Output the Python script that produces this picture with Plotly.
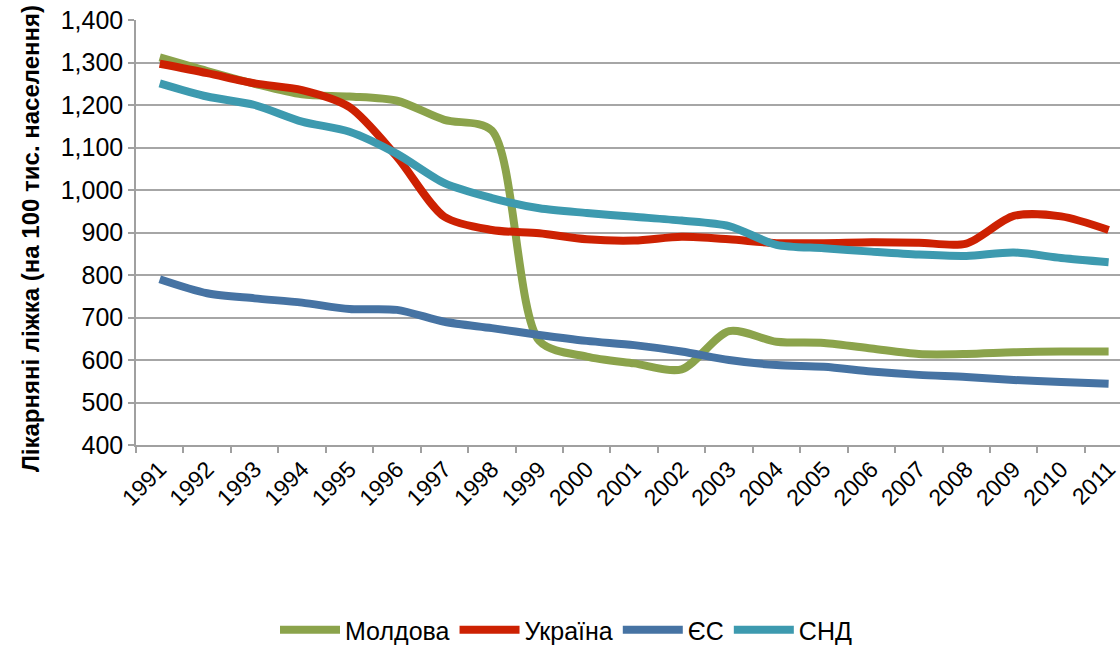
import plotly.graph_objects as go

years = [str(y) for y in range(1991, 2012)]
moldova = [1312, 1280, 1250, 1225, 1220, 1210, 1165, 1140, 645, 608, 592, 578, 668, 643, 640, 627, 614, 614, 618, 620, 620]
ukraine = [1297, 1275, 1251, 1235, 1195, 1078, 937, 906, 898, 884, 881, 890, 884, 875, 875, 877, 876, 874, 939, 938, 906]
eu = [790, 757, 745, 735, 720, 718, 690, 675, 659, 645, 635, 620, 600, 588, 584, 573, 565, 560, 553, 548, 544]
cis = [1251, 1220, 1200, 1161, 1137, 1085, 1016, 981, 957, 946, 937, 928, 915, 871, 863, 855, 848, 845, 853, 840, 830]

series = [
    ("Молдова", moldova, "#8BA34B"),
    ("Україна", ukraine, "#CD2102"),
    ("ЄС", eu, "#4673A3"),
    ("СНД", cis, "#3D9AAF"),
]

fig = go.Figure()
for name, vals, color in series:
    fig.add_trace(go.Scatter(
        x=years, y=vals, name=name, mode="lines",
        line=dict(color=color, width=8, shape="spline", smoothing=0.8),
    ))

font_family = "Liberation Sans, Arial, sans-serif"

W, H = 1120, 646
ML, MT, PH, PW = 136, 20, 425, 984

fig.update_layout(
    width=W, height=H,
    margin=dict(l=ML, r=0, t=MT, b=H - MT - PH),
    plot_bgcolor="white", paper_bgcolor="white",
    font=dict(family=font_family, size=24, color="#000000"),
    showlegend=True,
    legend=dict(
        orientation="h", x=(566 - ML) / PW, xanchor="center",
        yref="container", y=(H - 630) / H, yanchor="middle",
        font=dict(size=25, family=font_family), itemwidth=60,
        tracegroupgap=0, bgcolor="rgba(0,0,0,0)",
    ),
    xaxis=dict(
        type="category", range=[-0.5, 20.24], automargin=False,
        showgrid=False, showline=True, linecolor="#A0A0A0", linewidth=1.5,
        ticks="outside", ticklen=6, tickcolor="#A0A0A0", tickwidth=1.5,
        tickangle=-45, tickson="boundaries", ticklabeloverflow="allow",
        tickfont=dict(size=23, family=font_family),
    ),
    yaxis=dict(
        range=[400, 1400], dtick=100, tickformat=",d", automargin=False,
        showgrid=True, gridcolor="#A6A6A6", gridwidth=1.5,
        showline=True, linecolor="#A0A0A0", linewidth=1.5,
        ticks="outside", ticklen=6, tickcolor="#A0A0A0", tickwidth=1.5,
        ticklabeloverflow="allow",
        tickfont=dict(size=25, family=font_family),
        zeroline=False,
    ),
    annotations=[dict(
        text="<b>Лікарняні ліжка (на 100 тис. населення)</b>",
        xref="paper", yref="paper", x=-(ML - 30) / PW, y=(MT + PH - 239) / PH,
        xanchor="center", yanchor="middle", textangle=-90, showarrow=False,
        font=dict(size=24, family=font_family, color="#000000"),
    )],
)

fig.write_html(
    "out.html",
    config={"displayModeBar": False},
    post_script="document.body.style.margin='0px';document.body.style.overflow='hidden';",
)
